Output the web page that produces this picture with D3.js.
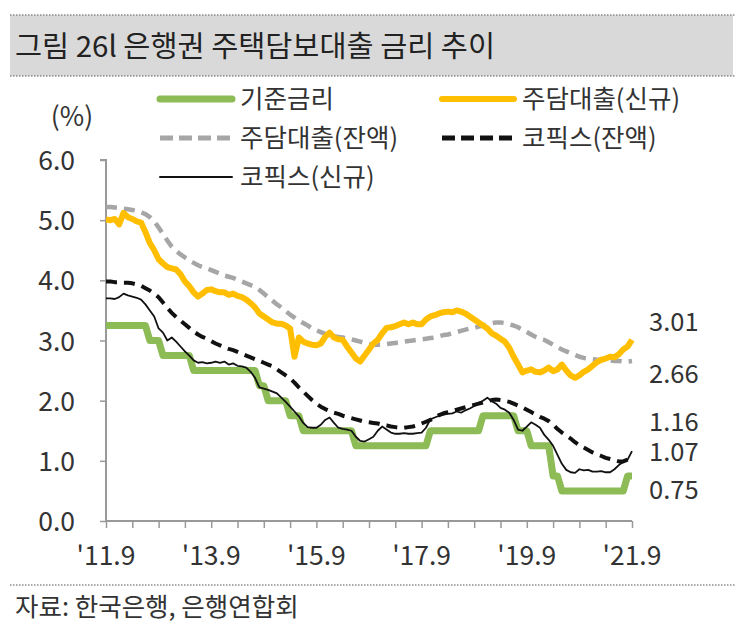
<!DOCTYPE html>
<html><head><meta charset="utf-8">
<script src="https://cdn.jsdelivr.net/npm/d3@7"></script>
<style>
body{margin:0;background:#fff;}
svg text{font-family:"Noto Sans CJK KR","Noto Sans",sans-serif;fill:#333;}
</style></head>
<body><svg id="c" width="743" height="636"></svg>
<script>
// Monthly, 2011.9 .. 2021.9 (121 points)
const startYear = 2011, startMonth = 9, nMonths = 121;
const baseRate = [3.25,3.25,3.25,3.25,3.25,3.25,3.25,3.25,3.25,3.25,3.00,3.00,3.00,2.75,2.75,2.75,2.75,2.75,2.75,2.75,
2.50,2.50,2.50,2.50,2.50,2.50,2.50,2.50,2.50,2.50,2.50,2.50,2.50,2.50,2.50,2.25,2.25,2.00,2.00,2.00,2.00,2.00,
1.75,1.75,1.75,1.50,1.50,1.50,1.50,1.50,1.50,1.50,1.50,1.50,1.50,1.50,1.50,1.25,1.25,1.25,1.25,1.25,1.25,1.25,
1.25,1.25,1.25,1.25,1.25,1.25,1.25,1.25,1.25,1.25,1.50,1.50,1.50,1.50,1.50,1.50,1.50,1.50,1.50,1.50,1.50,1.50,
1.75,1.75,1.75,1.75,1.75,1.75,1.75,1.75,1.50,1.50,1.50,1.25,1.25,1.25,1.25,1.25,0.75,0.75,0.50,0.50,0.50,0.50,
0.50,0.50,0.50,0.50,0.50,0.50,0.50,0.50,0.50,0.50,0.50,0.75,0.75];
const mortgageNew = [5.01,5.00,5.02,4.93,5.12,5.05,5.02,4.98,4.96,4.80,4.62,4.50,4.35,4.28,4.22,4.20,4.18,4.10,3.98,3.90,
3.80,3.73,3.78,3.84,3.85,3.82,3.80,3.80,3.76,3.78,3.74,3.72,3.68,3.62,3.55,3.45,3.40,3.35,3.30,3.28,3.28,3.25,
3.20,2.73,3.05,2.98,2.95,2.93,2.92,2.95,3.06,3.13,3.05,3.02,3.01,2.90,2.80,2.70,2.65,2.75,2.85,2.95,3.01,3.12,
3.21,3.22,3.24,3.27,3.30,3.27,3.30,3.27,3.27,3.35,3.40,3.42,3.45,3.47,3.48,3.47,3.50,3.48,3.45,3.40,3.35,3.30,
3.25,3.20,3.12,3.08,3.03,2.98,2.88,2.73,2.60,2.47,2.50,2.52,2.48,2.47,2.50,2.55,2.49,2.52,2.60,2.50,2.42,2.38,
2.42,2.48,2.52,2.58,2.64,2.68,2.70,2.73,2.72,2.77,2.85,2.90,3.01];
const mortgageBal = [5.22,5.22,5.21,5.20,5.19,5.18,5.17,5.15,5.13,5.10,5.05,4.98,4.88,4.77,4.66,4.56,4.49,4.43,4.38,4.33,
4.29,4.25,4.22,4.20,4.17,4.14,4.11,4.08,4.06,4.04,4.01,3.98,3.95,3.92,3.89,3.84,3.78,3.72,3.66,3.60,3.55,3.49,
3.43,3.38,3.33,3.29,3.25,3.20,3.17,3.14,3.11,3.09,3.07,3.06,3.05,3.03,3.02,3.00,2.98,2.96,2.94,2.93,2.93,2.93,
2.94,2.95,2.96,2.97,2.98,2.99,3.00,3.01,3.02,3.03,3.04,3.05,3.07,3.09,3.10,3.12,3.14,3.16,3.18,3.20,3.21,3.23,
3.25,3.27,3.29,3.30,3.30,3.29,3.27,3.25,3.22,3.18,3.14,3.10,3.06,3.03,3.01,2.97,2.93,2.89,2.85,2.82,2.79,2.76,
2.73,2.71,2.70,2.69,2.68,2.68,2.67,2.67,2.66,2.66,2.65,2.65,2.66];
const cofixBal = [3.98,3.98,3.97,3.97,3.96,3.96,3.95,3.93,3.91,3.87,3.83,3.78,3.72,3.63,3.54,3.46,3.39,3.33,3.27,3.21,
3.15,3.10,3.06,3.03,2.99,2.95,2.92,2.89,2.86,2.84,2.81,2.78,2.75,2.72,2.69,2.66,2.63,2.60,2.57,2.52,2.47,2.42,
2.37,2.30,2.22,2.15,2.08,2.01,1.95,1.90,1.86,1.83,1.80,1.78,1.75,1.73,1.71,1.69,1.67,1.65,1.64,1.63,1.62,1.60,
1.59,1.57,1.56,1.55,1.55,1.56,1.57,1.59,1.62,1.65,1.68,1.72,1.76,1.79,1.81,1.83,1.85,1.87,1.89,1.91,1.93,1.95,
1.97,1.99,2.01,2.02,2.01,2.00,1.98,1.95,1.92,1.89,1.85,1.81,1.77,1.73,1.70,1.66,1.60,1.53,1.47,1.42,1.37,1.31,
1.26,1.22,1.18,1.14,1.11,1.08,1.05,1.03,1.01,0.99,0.99,1.02,1.07];
const cofixNew = [3.70,3.70,3.69,3.72,3.78,3.75,3.73,3.71,3.68,3.60,3.50,3.40,3.20,3.13,3.00,3.05,2.98,2.90,2.82,2.75,
2.67,2.63,2.64,2.62,2.63,2.65,2.63,2.65,2.60,2.62,2.58,2.57,2.55,2.48,2.38,2.22,2.20,2.18,2.15,2.12,2.05,1.98,
1.90,1.82,1.74,1.63,1.56,1.55,1.55,1.60,1.68,1.72,1.63,1.55,1.53,1.52,1.50,1.40,1.33,1.32,1.36,1.40,1.50,1.57,
1.52,1.47,1.45,1.45,1.46,1.45,1.45,1.46,1.47,1.55,1.69,1.72,1.75,1.77,1.78,1.79,1.82,1.80,1.84,1.87,1.91,1.96,
2.00,2.05,1.99,1.95,1.88,1.85,1.80,1.68,1.52,1.50,1.57,1.64,1.60,1.55,1.43,1.35,1.25,1.10,0.95,0.85,0.81,0.80,
0.86,0.84,0.85,0.82,0.82,0.83,0.81,0.81,0.86,0.93,0.98,1.02,1.16];

const seriesNames = ["기준금리","주담대출(신규)","주담대출(잔액)","코픽스(잔액)","코픽스(신규)"];
const yTicks = [0,1,2,3,4,5,6];
const xTickLabels = ["'11.9","'13.9","'15.9","'17.9","'19.9","'21.9"];
const endLabels = ["3.01","2.66","1.16","1.07","0.75"];
const endLabelY = [3.31,2.45,1.64,1.15,0.52]; // label placement (value units)

const title = "그림 26l 은행권 주택담보대출 금리 추이";
const source = "자료: 한국은행, 은행연합회";

const svg = d3.select("#c");
const W = 743;
const numFont = 26.5;

// Title bar
svg.append("rect").attr("x",10).attr("y",15).attr("width",W-20).attr("height",61).attr("fill","#d9d9d9");
[15,76].forEach(y=>svg.append("line").attr("x1",10).attr("x2",W-8).attr("y1",y).attr("y2",y)
  .attr("stroke","#8c8c8c").attr("stroke-width",1.5).attr("stroke-dasharray","1.5,1.5"));
svg.append("text").attr("x",15).attr("y",57).attr("font-size",29).style("fill","#222")
  .attr("textLength",480).attr("lengthAdjust","spacingAndGlyphs").text(title);

// Scales
const x = d3.scaleLinear().domain([0,nMonths-1]).range([106,632]);
const y = d3.scaleLinear().domain([0,6]).range([521,160]);

// Axes
const axisColor = "#999";
const yAx = svg.append("g").attr("transform","translate(106,0)")
  .call(d3.axisLeft(y).tickValues(yTicks).tickSize(6).tickFormat(d3.format(".1f")));
const xTickVals = d3.range(0,nMonths,6);
const xAx = svg.append("g").attr("transform","translate(0,521)")
  .call(d3.axisBottom(x).tickValues(xTickVals).tickSize(7).tickFormat(""));
[yAx,xAx].forEach(g=>{
  g.select(".domain").attr("stroke",axisColor).attr("stroke-width",2);
  g.selectAll(".tick line").attr("stroke",axisColor).attr("stroke-width",1.5);
});
yAx.select(".domain").attr("d","M0,521V160H-6");
xAx.select(".domain").attr("d","M106,0H632");
yAx.selectAll(".tick text").attr("x",-31).attr("dy","0.36em").attr("font-size",numFont)
  .attr("font-family","Noto Sans CJK KR").style("fill","#333");
// x labels
svg.append("g").selectAll("text").data(xTickLabels).join("text")
  .attr("x",(d,i)=>x(i*24)).attr("y",565).attr("text-anchor","middle").attr("font-size",numFont).text(d=>d);
svg.append("text").attr("x",72).attr("y",126).attr("text-anchor","middle").attr("font-size",numFont).text("(%)");

// Lines
const idx = d3.range(nMonths);
const line = arr => d3.line().x(i=>x(i)).y(i=>y(arr[i]))(idx);
const styles = [
  {data:baseRate, color:"#8dbb55", w:7, dash:null},
  {data:mortgageNew, color:"#ffbf00", w:6, dash:null},
  {data:mortgageBal, color:"#a6a6a6", w:4.5, dash:"11,7"},
  {data:cofixBal, color:"#111", w:4, dash:"11,7"},
  {data:cofixNew, color:"#111", w:1.8, dash:null}
];
const drawOrder = [0,2,1,3,4];
drawOrder.forEach(k=>{
  const s = styles[k];
  svg.append("path").attr("d",line(s.data)).attr("fill","none").attr("stroke",s.color)
    .attr("stroke-width",s.w).attr("stroke-linejoin","round")
    .attr("stroke-dasharray",s.dash);
});

// End labels
svg.append("g").selectAll("text").data(endLabels).join("text")
  .attr("x",649).attr("y",(d,i)=>y(endLabelY[i])+9).attr("font-size",25.5).text(d=>d);

// Legend
const legendPos = [[160,99],[442,99],[160,138],[442,138],[160,177]];
seriesNames.forEach((n,k)=>{
  const s = styles[k], [lx,ly] = legendPos[k];
  svg.append("line").attr("x1",lx).attr("x2",lx+72).attr("y1",ly).attr("y2",ly)
    .attr("stroke",s.color).attr("stroke-width",k===4?2:(k===0?7:(k===1?6:5)))
    .attr("stroke-linecap",s.dash?"butt":"round").attr("stroke-dasharray",s.dash?"13,6":null);
  svg.append("text").attr("x",lx+80).attr("y",ly+9).attr("font-size",25.5).text(n);
});

// Footer
svg.append("line").attr("x1",10).attr("x2",W-8).attr("y1",585).attr("y2",585)
  .attr("stroke","#8c8c8c").attr("stroke-width",1.5).attr("stroke-dasharray","1.5,1.5");
svg.append("text").attr("x",15).attr("y",616).attr("font-size",25.5).text(source);
</script></body></html>
